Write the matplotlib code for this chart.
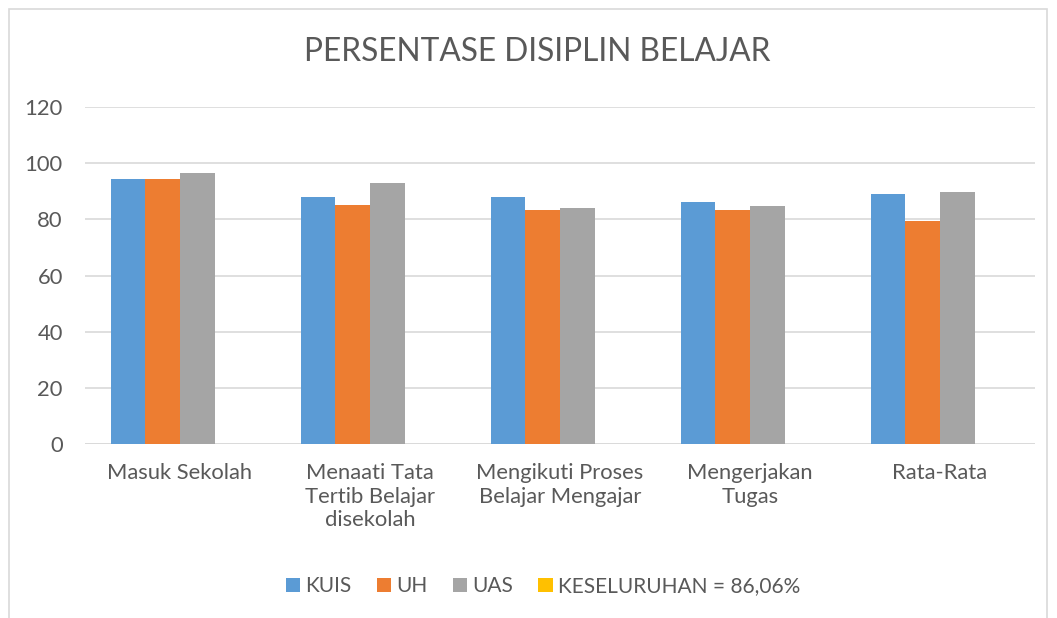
import matplotlib
matplotlib.use("Agg")
import matplotlib.pyplot as plt
import numpy as np
from matplotlib.patches import Rectangle

categories = ["Masuk Sekolah", "Menaati Tata\nTertib Belajar\ndisekolah",
              "Mengikuti Proses\nBelajar Mengajar", "Mengerjakan\nTugas", "Rata-Rata"]
kuis = [94.2, 87.8, 87.8, 86.2, 89.0]
uh = [94.2, 85.1, 83.2, 83.5, 79.3]
uas = [96.6, 93.0, 83.9, 84.9, 89.6]
keseluruhan = [0, 0, 0, 0, 0]
series_names = ["KUIS", "UH", "UAS", "KESELURUHAN = 86,06%"]
colors = ["#5B9BD5", "#ED7D31", "#A5A5A5", "#FFC000"]
yticks = [0, 20, 40, 60, 80, 100, 120]

plt.rcParams['font.family'] = ['Lato', 'DejaVu Sans']
txt = "#595959"

fig = plt.figure(figsize=(10.57, 6.18), dpi=100)
ax = fig.add_axes([85/1057, 1-444/618, 950/1057, (444-107)/618])

x = np.arange(len(categories))
w = 0.182
data = [kuis, uh, uas, keseluruhan]
for i, (vals, c, n) in enumerate(zip(data, colors, series_names)):
    ax.bar(x + (i - 1.5) * w, vals, w, color=c, label=n, zorder=3)

ax.set_xlim(-0.5, len(categories) - 0.5)
ax.set_ylim(0, 120)
ax.set_yticks(yticks)
ax.set_xticks(x)
ax.set_xticklabels(categories, fontsize=15.8, color=txt, linespacing=1.22)
ax.tick_params(axis='y', labelsize=15.8, colors=txt, length=0, pad=16)
ax.tick_params(axis='x', length=0, pad=14, colors=txt)
ax.grid(axis='y', color="#D9D9D9", linewidth=1.2, zorder=0)
for s in ax.spines.values():
    s.set_visible(False)
ax.axhline(0, color="#D9D9D9", linewidth=1.2, zorder=2)

fig.text(537/1057, 1-52/618, "PERSENTASE DISIPLIN BELAJAR", ha='center', va='center',
         fontsize=22.8, color=txt)

handles, labels = ax.get_legend_handles_labels()
leg = fig.legend(handles, labels, loc='center', bbox_to_anchor=(543/1057, 1-586/618), ncol=4,
                 frameon=False, fontsize=15, handlelength=0.68, handleheight=0.68,
                 handletextpad=0.27, columnspacing=1.2)
for t in leg.get_texts():
    t.set_color(txt)

fig.patches.append(Rectangle((9/1057, -0.01), 1038/1057, 1 - 9/618 + 0.01, transform=fig.transFigure,
                             fill=False, edgecolor="#D9D9D9", linewidth=1.2))

fig.savefig("out.png", dpi=100)
